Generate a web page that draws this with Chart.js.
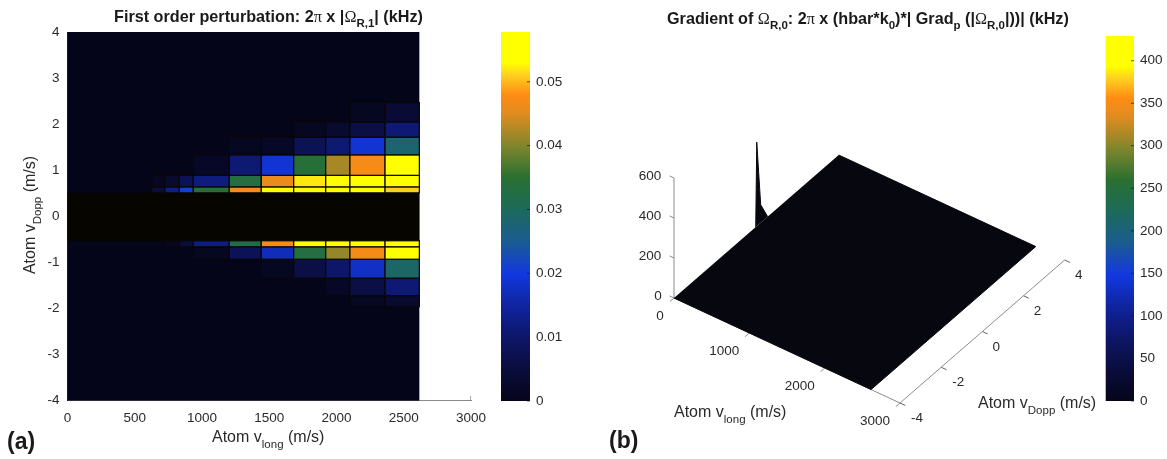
<!DOCTYPE html>
<html>
<head>
<meta charset="utf-8">
<title>Perturbation and gradient maps</title>
<script src="https://cdn.jsdelivr.net/npm/chart.js@4/dist/chart.umd.min.js"></script>
<style>
  html, body { margin:0; padding:0; background:#fff; width:1167px; height:459px; overflow:hidden; }
  #page { position:relative; width:1167px; height:459px; font-family:"Liberation Sans", Arial, sans-serif; color:#222; filter:blur(0.45px); }
  canvas { position:absolute; display:block; }
  .t { position:absolute; white-space:nowrap; line-height:1; }
  .title { font-weight:bold; font-size:16.2px; color:#1a1a1a; }
  .ax { font-size:16px; color:#2a2a2a; }
  .panel { font-weight:bold; font-size:23px; color:#1a1a1a; }
  .title sub { font-size:11.5px; vertical-align:-5px; line-height:0; }
  .ax sub { font-size:11.5px; vertical-align:-6px; line-height:0; }
  .sym { font-family:"Liberation Serif", serif; font-weight:normal; }
</style>
</head>
<body>
<div id="page">
  <canvas id="heat" width="490" height="459" style="left:0;top:0"></canvas>
  <canvas id="bar1" width="75" height="459" style="left:495px;top:0"></canvas>
  <canvas id="surf" width="500" height="459" style="left:600px;top:0"></canvas>
  <canvas id="bar2" width="67" height="459" style="left:1100px;top:0"></canvas>

  <div class="t title" style="left:114px;top:8px">First order perturbation: 2<span class="sym">π</span> x |<span class="sym">Ω</span><sub>R,1</sub>| (kHz)</div>
  <div class="t ax" style="left:212px;top:429px">Atom v<sub>long</sub> (m/s)</div>
  <div class="t ax" style="left:30px;top:215px;transform:translate(-50%,-50%) rotate(-90deg)">Atom v<sub>Dopp</sub> (m/s)</div>
  <div class="t panel" style="left:7px;top:430px">(a)</div>

  <div class="t title" style="left:667px;top:10px">Gradient of <span class="sym">Ω</span><sub>R,0</sub>: 2<span class="sym">π</span> x (hbar*k<sub>0</sub>)*| Grad<sub>p</sub> (|<span class="sym">Ω</span><sub>R,0</sub>|))| (kHz)</div>
  <div class="t ax" style="left:674px;top:404px">Atom v<sub>long</sub> (m/s)</div>
  <div class="t ax" style="left:978px;top:395px">Atom v<sub>Dopp</sub> (m/s)</div>
  <div class="t panel" style="left:609px;top:429px">(b)</div>
</div>

<script>
/* Values */

// panel (a): cell edges
const vLongEdges = [626, 725, 831, 935, 1203, 1441, 1682, 1920, 2100, 2361, 2616];
const vDoppEdges = [-1.96, -1.72, -1.34, -0.93, -0.66, -0.53, 0.51, 0.64, 0.89, 1.335, 1.72, 2.05, 2.47];

// panel (a): kHz per cell, one list per vDopp band, bottom to top
const bandM196 = [0, 0, 0, 0, 0, 0, 0, 0, 0.001, 0.003];
const bandM172 = [0, 0, 0, 0, 0, 0, 0, 0.002, 0.006, 0.011];
const bandM134 = [0, 0, 0, 0, 0, 0.001, 0.006, 0.010, 0.018, 0.029];
const bandM093 = [0, 0, 0, 0.001, 0.008, 0.017, 0.033, 0.041, 0.047, 0.053];
const bandM066 = [0, 0.001, 0.005, 0.012, 0.032, 0.047, 0.053, 0.054, 0.054, 0.054];
const bandCore = null; // the dark strip around vDopp = 0
const bandP051 = [0.005, 0.013, 0.021, 0.034, 0.047, 0.053, 0.055, 0.055, 0.055, 0.051];
const bandP064 = [0.001, 0.003, 0.008, 0.012, 0.033, 0.046, 0.052, 0.056, 0.057, 0.055];
const bandP089 = [0, 0, 0, 0.002, 0.011, 0.019, 0.034, 0.042, 0.047, 0.053];
const bandP134 = [0, 0, 0, 0, 0.001, 0.002, 0.008, 0.011, 0.019, 0.028];
const bandP172 = [0, 0, 0, 0, 0, 0, 0.001, 0.003, 0.006, 0.011];
const bandP205 = [0, 0, 0, 0, 0, 0, 0, 0, 0.001, 0.004];
const bands = [bandM196, bandM172, bandM134, bandM093, bandM066, bandCore, bandP051, bandP064, bandP089, bandP134, bandP172, bandP205];

const gridEndLong = 2616;
const heatXTicks = [0, 500, 1000, 1500, 2000, 2500, 3000];
const heatYTicks = [-4, -3, -2, -1, 0, 1, 2, 3, 4];

// colour scale, stops as a share of the bar's maximum
const cmapStops  = [0, 0.087, 0.173, 0.26, 0.346, 0.433, 0.519, 0.606, 0.692, 0.779, 0.83, 0.883, 0.917, 1];
const cmapColors = ['#05051a', '#0a0d3c', '#0d1668', '#0f24a0', '#1238e0', '#1a5c90', '#1c6a5a', '#2a7030',
                    '#80862c', '#e08c20', '#ff8c14', '#ffd020', '#ffff00', '#ffff00'];
const bar1Max = 0.0578;
const bar1Ticks = [0, 0.01, 0.02, 0.03, 0.04, 0.05];
const bar2Max = 429;
const bar2Ticks = [0, 50, 100, 150, 200, 250, 300, 350, 400];

// panel (b): surface outline and the spike on its far edge
const surfLong  = [0, 2616, 2616, 0];
const surfDopp  = [-4, -4, 4, 4];
const spikeLong = [0, 0, 0, 0];
const spikeDopp = [-0.03, 0.02, 0.21, 0.55];
const spikeZ    = [0, 420, 90, 0];
const surfLongTicks = [0, 1000, 2000, 3000];
const surfDoppTicks = [-4, -2, 0, 2, 4];
const surfZTicks    = [0, 200, 400, 600];

const tickFont = { family: '"Liberation Sans", Arial, sans-serif', size: 13.5 };
const tickColor = '#2a2a2a';
const axisGray = '#8b8b8b';

function hexRgb(h) { return [1, 3, 5].map(i => parseInt(h.substr(i, 2), 16)); }

function colorFor(share) {
  let i = 0;
  while (i < cmapStops.length - 2 && share > cmapStops[i + 1]) i++;
  const t = Math.min(1, Math.max(0, (share - cmapStops[i]) / (cmapStops[i + 1] - cmapStops[i])));
  const a = hexRgb(cmapColors[i]), b = hexRgb(cmapColors[i + 1]);
  return 'rgb(' + a.map((c, k) => Math.round(c + (b[k] - c) * t)).join(',') + ')';
}

// ── Panel (a) heat map ───────────────────────────────
const heatCells = [{ x0: 0, x1: gridEndLong, y0: -4, y1: 4, color: cmapColors[0] }];
heatCells.push({ x0: 0, x1: gridEndLong, y0: vDoppEdges[5], y1: vDoppEdges[6], color: '#060500' });
bands.forEach((band, r) => {
  if (!band) return;
  band.forEach((v, c) => {
    if (!v) return;
    heatCells.push({ x0: vLongEdges[c], x1: vLongEdges[c + 1], y0: vDoppEdges[r], y1: vDoppEdges[r + 1],
                     color: colorFor(v / bar1Max), edged: true });
  });
});

const cellPainter = {
  id: 'cellPainter',
  beforeDatasetsDraw(chart) {
    const { ctx, scales: { x, y } } = chart;
    chart.data.datasets[0].data.forEach(c => {
      const l = x.getPixelForValue(c.x0), r = x.getPixelForValue(c.x1);
      const t = y.getPixelForValue(c.y1), b = y.getPixelForValue(c.y0);
      ctx.fillStyle = c.color;
      ctx.fillRect(l, t, r - l, b - t);
      if (c.edged) {
        ctx.strokeStyle = '#0a0704';
        ctx.lineWidth = 1.2;
        ctx.strokeRect(l, t, r - l, b - t);
      }
    });
  }
};

new Chart(document.getElementById('heat'), {
  type: 'scatter',
  data: {
    datasets: [
      { data: heatCells.map(c => ({ x: (c.x0 + c.x1) / 2, y: (c.y0 + c.y1) / 2, ...c })), pointRadius: 0 },
      { data: [{ x: 3000, y: -4 }, { x: 3000, y: -3.9 }], showLine: true, pointRadius: 0, borderColor: '#555', borderWidth: 1 }
    ]
  },
  options: {
    responsive: false, animation: false,
    layout: { autoPadding: false, padding: { top: 32, right: 19 } },
    plugins: { legend: { display: false }, tooltip: { enabled: false } },
    scales: {
      x: {
        min: 0, max: 3000,
        // label overhang is covered by the layout padding
        afterFit: s => { s.height = 58.3; s.paddingLeft = 0; s.paddingRight = 0; },
        afterBuildTicks: s => { s.ticks = heatXTicks.map(value => ({ value })); },
        grid: { drawOnChartArea: false, drawTicks: false },
        border: { color: axisGray },
        ticks: { font: tickFont, color: tickColor, padding: 9, maxRotation: 0, callback: v => String(v) }
      },
      y: {
        min: -4, max: 4,
        afterFit: s => { s.width = 67.5; },
        afterBuildTicks: s => { s.ticks = heatYTicks.map(value => ({ value })); },
        grid: { drawOnChartArea: false, drawTicks: false },
        border: { color: '#23234a' },
        ticks: { font: tickFont, color: tickColor, padding: 8, callback: v => String(v) }
      }
    }
  },
  plugins: [cellPainter]
});

// ── Colour bars ──────────────────────────────────────
const innerTicks = {
  id: 'innerTicks',
  afterDatasetsDraw(chart) {
    const { ctx, chartArea, scales: { y } } = chart;
    ctx.strokeStyle = 'rgba(30,20,10,0.7)';
    ctx.lineWidth = 1;
    y.ticks.forEach(t => {
      const p = y.getPixelForValue(t.value);
      ctx.beginPath();
      ctx.moveTo(chartArea.right - 3, p);
      ctx.lineTo(chartArea.right, p);
      ctx.stroke();
    });
  }
};

function colourBar(id, max, tickValues, padding, axisWidth) {
  new Chart(document.getElementById(id), {
    type: 'bar',
    data: {
      labels: [''],
      datasets: [{
        data: [[0, max]],
        barPercentage: 1, categoryPercentage: 1,
        borderWidth: 0,
        backgroundColor(c) {
          const y = c.chart.scales.y;
          if (!y || !c.chart.chartArea) return cmapColors[0];
          const g = c.chart.ctx.createLinearGradient(0, y.getPixelForValue(0), 0, y.getPixelForValue(max));
          cmapStops.forEach((s, i) => g.addColorStop(s, cmapColors[i]));
          return g;
        }
      }]
    },
    options: {
      responsive: false, animation: false,
      layout: { padding },
      plugins: { legend: { display: false }, tooltip: { enabled: false } },
      scales: {
        x: { display: false },
        y: {
          position: 'right', min: 0, max,
          afterFit: s => { s.width = axisWidth; },
          afterBuildTicks: s => { s.ticks = tickValues.map(value => ({ value })); },
          grid: { display: false, drawTicks: false },
          border: { display: false },
          ticks: { font: tickFont, color: tickColor, padding: 6, callback: v => String(v) }
        }
      }
    },
    plugins: [innerTicks]
  });
}
colourBar('bar1', bar1Max, bar1Ticks, { left: 6, top: 32, bottom: 58 }, 40);
colourBar('bar2', bar2Max, bar2Ticks, { left: 5.6, top: 36, bottom: 58 }, 33);

// ── Panel (b) surface ────────────────────────────────
// orthographic view: where the axes run on the page
const origin    = { x: 674, y: 298 };
const longSpan  = { x: 226, y: 105, of: 3000 };
const doppSpan  = { x: 164.7, y: -143, of: 8 };
const zPerKHz   = 0.2;

function project(long, dopp, z) {
  const a = long / longSpan.of, b = (dopp + 4) / doppSpan.of;
  return { x: origin.x + a * longSpan.x + b * doppSpan.x, y: origin.y + a * longSpan.y + b * doppSpan.y - (z || 0) * zPerKHz };
}

function segment(a, b, color) {
  return { data: [project(...a), project(...b)], showLine: true, pointRadius: 0, borderColor: color || axisGray, borderWidth: 1 };
}

const dark = '#07070f';
const surfDatasets = [
  { data: surfLong.map((l, i) => project(l, surfDopp[i], 0)), showLine: true, pointRadius: 0, fill: 'shape', backgroundColor: dark, borderColor: dark, borderWidth: 1 },
  { data: spikeLong.map((l, i) => project(l, spikeDopp[i], spikeZ[i])), showLine: true, pointRadius: 0, fill: 'shape', backgroundColor: dark, borderColor: dark, borderWidth: 1 },
  segment([0, -4, 0], [3000, -4, 0]),
  segment([3000, -4, 0], [3000, 4, 0]),
  segment([0, -4, 0], [0, -4, 600])
];
surfZTicks.forEach(z => surfDatasets.push(segment([0, -4, z], [-60, -4, z])));
surfLongTicks.forEach(l => surfDatasets.push(segment([l, -4, 0], [l, -4.2, 0])));
surfDoppTicks.forEach(d => surfDatasets.push(segment([3000, d, 0], [3070, d, 0], '#5a5a7a')));

const surfLabels = {
  id: 'surfLabels',
  afterDatasetsDraw(chart) {
    const { ctx, scales: { x, y } } = chart;
    const put = (txt, p, dx, dy) => ctx.fillText(txt, x.getPixelForValue(p.x) + dx, y.getPixelForValue(p.y) + dy);
    ctx.font = tickFont.size + 'px ' + tickFont.family;
    ctx.fillStyle = tickColor;
    ctx.textAlign = 'center';
    ctx.textBaseline = 'middle';
    surfZTicks.forEach(z => put(String(z), project(0, -4, z), z ? -24 : -16, -2));
    surfLongTicks.forEach(l => put(String(l), project(l, -4, 0), l ? -25 : -14, 18));
    surfDoppTicks.forEach(d => put(String(d), project(3000, d, 0), d < 0 ? 17 : 14, 15.5));
  }
};

new Chart(document.getElementById('surf'), {
  type: 'scatter',
  data: { datasets: surfDatasets },
  options: {
    responsive: false, animation: false,
    plugins: { legend: { display: false }, tooltip: { enabled: false } },
    scales: {
      x: { display: false, min: 600, max: 1100 },
      y: { display: false, min: 0, max: 459, reverse: true }
    }
  },
  plugins: [surfLabels]
});
</script>
</body>
</html>
